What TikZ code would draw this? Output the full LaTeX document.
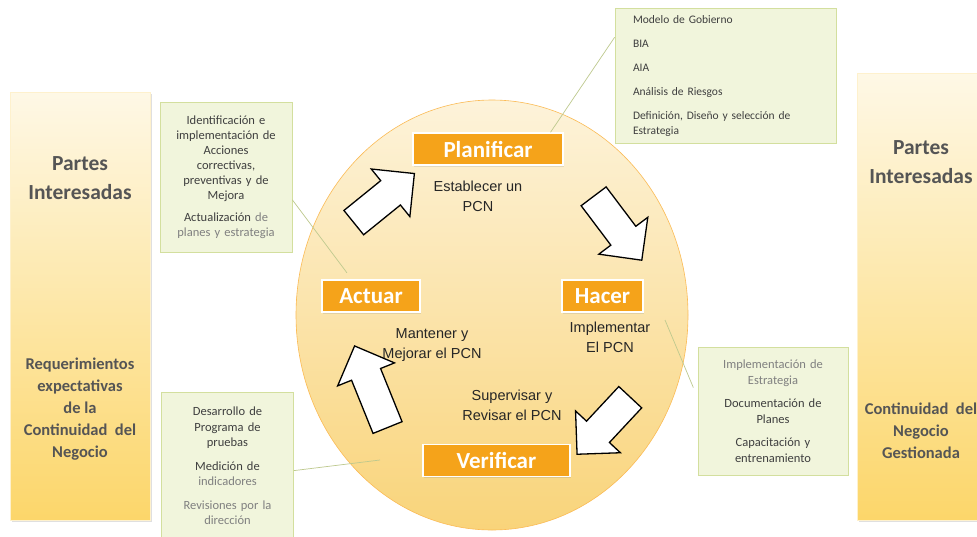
\documentclass[tikz,border=0pt]{standalone}
\usepackage{fontspec}
\setmainfont{Carlito}
\newfontfamily\arialfont{Liberation Sans}
\usetikzlibrary{positioning,shapes.arrows,shapes.geometric,shadows}

\definecolor{labelorange}{HTML}{F5A31A}
\definecolor{barlight}{HTML}{FEF8E6}
\definecolor{bardark}{HTML}{FCD66A}
\definecolor{circlelight}{HTML}{FDF3DA}
\definecolor{circledark}{HTML}{F9D47A}
\definecolor{notefill}{HTML}{F1F5DC}
\definecolor{noteline}{HTML}{D3DF9E}
\definecolor{darktext}{HTML}{3F3F3F}
\definecolor{greytext}{HTML}{808080}
\definecolor{bartext}{HTML}{555555}

\tikzset{
  phase/.style={fill=labelorange, draw=white, line width=1.5pt, text=white,
    font=\fontsize{23}{26}\selectfont\bfseries, minimum height=32pt, inner sep=0pt,
    drop shadow={opacity=0.2, shadow xshift=1pt, shadow yshift=-1.5pt}},
  sidebar/.style={top color=barlight, bottom color=bardark, draw=barlight!80!bardark,
    drop shadow={opacity=0.25, shadow xshift=2pt, shadow yshift=-2pt}},
  bartitle/.style={text=bartext, align=center, font=\fontsize{21.5}{29}\selectfont\bfseries},
  barnote/.style={text=bartext, align=center, font=\fontsize{16.5}{22}\selectfont\bfseries},
  note/.style={fill=notefill, draw=noteline, line width=0.8pt, text=darktext},
  pcn/.style={align=center, text=black!85, font=\arialfont\fontsize{14.5}{20}\selectfont},
  cyclearrow/.style={single arrow, draw=black, fill=white, line width=1.3pt, inner sep=0pt,
    text height=15pt, text depth=15pt, single arrow head extend=15pt},
  link/.style={draw=noteline!90!black, line width=0.7pt}
}

\begin{document}
\begin{tikzpicture}[x=1pt,y=-1pt]
\useasboundingbox[fill=white] (0,0) rectangle (977,536);
\clip (0,0) rectangle (977,536);

% side bars
\node[sidebar, minimum width=140pt, minimum height=428pt] (leftBar) at (80,306) {};
\node[sidebar, minimum width=133pt, minimum height=447pt] (rightBar) at (923.5,296.5) {};
\node[bartitle] (leftTitle) at (80,178) {Partes\\Interesadas};
\node[barnote] (leftNote) at (80,409) {Requerimientos\\expectativas\\de la\\Continuidad\ \ del\\Negocio};
\node[bartitle] (rightTitle) at (921,162) {Partes\\Interesadas};
\node[barnote] (rightNote) at (921,431) {Continuidad\ \ del\\Negocio\\Gestionada};

% cycle
\node[ellipse, minimum width=392pt, minimum height=430pt, top color=circlelight,
  bottom color=circledark, draw=circledark!70!orange, line width=0.6pt] (cycle) at (492,315) {};

\node[phase, minimum width=150pt] (plan) at (488,149) {Planificar};
\node[phase, minimum width=81pt] (hacer) at (602.5,296) {Hacer};
\node[phase, minimum width=98pt] (act) at (371,296) {Actuar};
\node[phase, minimum width=147pt] (check) at (496.5,460.5) {Verificar};

\node[pcn, below=12pt of plan, xshift=-10pt] (planText) {Establecer un\\PCN};
\node[pcn] (hacerText) at (610,337) {Implementar\\El PCN};
\node[pcn] (actText) at (432,345) {Mantener y\\Mejorar el PCN};
\node[pcn] (checkText) at (512,405) {Supervisar y\\Revisar el PCN};

\node[cyclearrow, minimum height=78pt, rotate=39] (arrA) at (378,203) {};
\node[cyclearrow, minimum height=80pt, rotate=-53] (arrB) at (613,222) {};
\node[cyclearrow, minimum height=78pt, rotate=-133] (arrC) at (609,420) {};
\node[cyclearrow, minimum height=88pt, rotate=112] (arrD) at (374,394) {};

% notes
\node[note, minimum width=221pt, minimum height=135pt, text width=185pt, align=left,
  font=\fontsize{11.5}{15}\selectfont] (notePlan) at (725.5,75.5)
  {Modelo de Gobierno\\[9pt] BIA\\[9pt] AIA\\[9pt] An\'alisis de Riesgos\\[9pt]
   Definici\'on, Dise\~no y selecci\'on de\\ Estrategia};
\node[note, minimum width=132pt, minimum height=150pt, text width=125pt, align=center,
  font=\fontsize{12.5}{15}\selectfont] (noteAct) at (226,177)
  {Identificaci\'on\ e\\ implementaci\'on de\\ Acciones\\ correctivas,\\ preventivas y de\\ Mejora\\[7pt]
   Actualizaci\'on {\color{greytext}de}\\ {\color{greytext}planes y estrategia}};
\node[note, minimum width=150pt, minimum height=128pt, text width=140pt, align=center,
  font=\fontsize{12.5}{16}\selectfont] (noteDo) at (773,411)
  {{\color{greytext}Implementaci\'on de}\\ {\color{greytext}Estrategia}\\[7pt]
   Documentaci\'on de\\ Planes\\[7pt] Capacitaci\'on y\\ entrenamiento};
\node[note, minimum width=129pt, minimum height=148pt, text width=125pt, align=center,
  font=\fontsize{12.5}{15.5}\selectfont] (noteCheck) at (227.5,466)
  {Desarrollo de\\ Programa de\\ pruebas\\[8pt] Medici\'on de\\ {\color{greytext}indicadores}\\[8pt]
   {\color{greytext}Revisiones por la}\\ {\color{greytext}direcci\'on}};

% links
\coordinate (doStart) at (665,320);
\coordinate (checkEnd) at (380,460);
\draw[link] (notePlan.161) -- (plan.15);
\draw[link, shorten >=8pt] (noteAct.-19) -- (act.139);
\draw[link, shorten >=11pt] (doStart) -- (noteDo.170);
\draw[link] (noteCheck.-4) -- (checkEnd);
\end{tikzpicture}
\end{document}
